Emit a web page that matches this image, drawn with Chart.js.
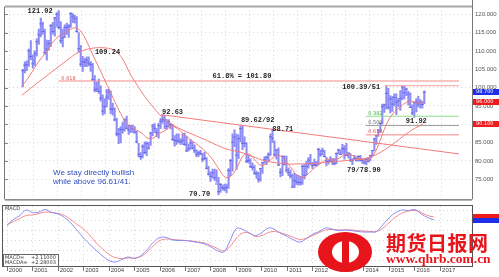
<!DOCTYPE html>
<html>
<head>
<meta charset="utf-8">
<script src="https://cdn.jsdelivr.net/npm/chart.js@4.4.0/dist/chart.umd.min.js"></script>
<style>
  html, body { margin: 0; padding: 0; background: #fff; }
  #wrap { position: relative; width: 499px; height: 277px; overflow: hidden; }
  #priceChart { position: absolute; left: 0; top: 0; }
  #macdChart { position: absolute; left: 0; top: 205px; }
  #logo { position: absolute; left: 318px; top: 232px; width: 54px; height: 40px; background: #e8141b; border-radius: 50%; }
  #logo .inner { position: absolute; left: 14px; top: 9px; width: 27px; height: 22px; background: #fff; border-radius: 50%; }
  #logo .bar { position: absolute; left: 24px; top: 3px; width: 7px; height: 34px; background: #e8141b; }
  #siteName { position: absolute; left: 386px; top: 228px; font: bold 20px "Noto Sans CJK SC"; color: #e8141b; letter-spacing: 0.5px; white-space: nowrap; }
  #siteUrl { position: absolute; left: 386px; top: 251px; font: bold 13.5px "Liberation Serif"; color: #e8141b; white-space: nowrap; }
</style>
</head>
<body>
<div id="wrap">
  <canvas id="priceChart" width="499" height="206"></canvas>
  <canvas id="macdChart" width="499" height="72"></canvas>
  <div id="logo"><div class="inner"></div><div class="bar"></div></div>
  <div id="siteName">期货日报网</div>
  <div id="siteUrl">www.qhrb.com.cn</div>
</div>
<script>
"use strict";

// Månadsstaplar jan 2000 - okt 2016 (high / low / close)
const highs = [
  105.0,107.0,107.3,110.5,112.8,108.9,110.0,113.3,116.0,119.0,117.9,116.0,
  113.0,112.9,117.2,117.8,119.2,120.5,121.0,118.0,116.0,117.1,117.6,117.2,
  120.5,120.2,119.8,119.4,115.0,111.5,108.5,108.0,108.4,108.4,107.1,106.6,
  103.3,101.6,102.3,100.5,98.0,97.0,99.5,99.6,99.1,95.8,94.5,91.6,
  88.9,89.4,90.6,91.5,92.2,89.7,89.6,89.8,89.4,88.1,84.8,82.3,
  84.4,85.2,85.2,85.1,87.8,90.0,90.2,88.8,90.3,91.6,92.6,92.4,
  91.3,91.3,90.3,90.0,86.9,87.4,87.4,86.1,87.5,87.6,86.8,84.6,
  85.8,85.2,84.4,83.0,82.7,82.9,82.1,82.4,80.9,78.5,77.0,77.8,
  77.8,77.6,75.5,73.8,73.4,73.7,73.7,77.9,80.4,87.4,88.5,87.3,
  87.1,89.5,89.6,86.6,85.0,81.6,80.6,79.4,78.8,77.2,76.9,78.0,
  79.6,81.1,81.3,82.2,87.4,88.7,85.5,83.1,83.6,77.9,81.4,81.4,
  81.3,78.1,77.5,76.4,76.6,76.3,76.1,75.8,78.9,79.0,79.9,80.9,
  81.8,79.6,80.5,79.9,83.5,83.0,83.5,82.9,81.0,80.3,81.2,80.7,
  80.7,82.2,83.2,83.0,84.5,84.2,84.8,82.3,82.0,80.6,81.5,81.1,
  81.4,81.5,80.6,80.4,80.7,80.9,81.5,82.8,86.2,86.9,88.4,90.3,
  95.5,95.5,100.4,99.8,97.8,97.6,98.3,98.3,97.1,99.2,100.2,100.5,
  99.9,99.0,98.6,95.3,96.0,97.0,97.6,96.7,96.3,99.1
];
const lows = [
  100.2,104.0,104.6,105.8,107.6,105.3,106.0,108.6,111.8,113.8,114.5,109.0,
  107.5,110.2,111.2,114.6,114.0,116.6,116.0,112.1,111.1,113.6,114.5,113.7,
  116.4,117.7,117.6,115.1,109.6,105.8,104.4,105.7,105.7,105.9,104.4,101.9,
  98.8,98.9,98.4,96.3,92.5,92.8,94.7,96.8,92.9,92.5,90.9,86.8,
  84.7,84.9,87.6,88.1,88.7,87.2,87.7,87.8,87.5,84.9,81.1,80.4,
  80.8,82.0,81.4,83.2,84.2,86.8,87.7,86.6,86.2,88.8,90.2,88.8,
  88.6,89.3,88.7,85.6,84.0,84.5,84.9,84.5,84.5,84.2,82.6,82.7,
  83.2,83.2,82.2,81.1,81.2,81.7,79.8,80.3,77.8,76.1,74.4,75.3,
  74.7,74.1,70.7,71.4,72.0,71.8,71.3,72.5,76.0,77.2,83.9,77.7,
  80.6,85.2,83.1,83.8,79.5,79.4,78.2,77.5,76.3,75.2,74.2,74.5,
  76.6,79.3,79.0,80.1,81.5,85.0,81.4,80.5,78.7,75.6,76.0,78.9,
  76.9,76.0,75.3,72.8,72.7,73.5,73.4,73.4,73.6,75.1,76.1,78.0,
  78.9,77.9,78.6,78.5,78.9,81.2,81.6,81.1,78.6,79.1,79.8,79.0,
  78.9,79.2,81.9,81.7,81.9,80.5,81.4,80.8,79.8,79.0,80.4,79.9,
  79.9,79.9,79.3,79.1,78.9,79.8,80.1,81.3,82.7,84.5,86.7,87.8,
  90.0,93.2,94.2,94.1,93.1,93.5,95.0,92.6,94.8,93.8,96.7,96.9,
  97.8,95.2,94.6,92.6,91.9,93.4,94.7,94.4,94.4,95.6
];
const closes = [
  104.6,106.1,106.3,110.0,108.5,106.5,109.2,112.5,114.4,117.4,115.3,109.6,
  110.5,112.0,116.9,115.3,119.0,120.0,116.4,112.8,113.6,116.4,116.4,116.8,
  120.2,119.5,118.9,115.3,110.6,106.4,107.1,106.9,107.5,106.7,106.3,102.2,
  99.4,99.6,99.0,97.1,93.6,94.8,97.4,98.8,94.2,94.1,91.2,87.4,
  87.3,88.6,88.5,91.2,88.9,88.4,89.6,88.8,87.9,85.2,81.8,81.2,
  83.9,82.3,84.7,83.5,87.6,89.5,88.9,87.7,89.6,90.8,91.2,91.2,
  89.4,90.7,89.9,85.9,85.6,85.5,85.4,85.2,85.6,84.5,82.7,83.3,
  84.9,83.5,82.8,81.7,82.2,81.9,80.5,80.7,78.0,76.4,75.8,76.7,
  75.4,73.7,71.6,73.6,72.7,72.4,72.8,77.4,80.1,85.1,86.5,81.6,
  86.1,88.8,84.8,84.8,79.9,80.1,78.4,78.2,76.7,76.5,75.0,77.9,
  79.5,80.3,81.0,81.8,86.6,86.2,81.7,83.0,78.9,76.9,81.2,79.0,
  77.5,76.8,75.9,72.9,74.7,74.3,74.1,74.1,78.5,76.1,78.5,80.2,
  79.3,78.7,79.0,78.8,83.1,81.8,82.7,81.2,79.9,79.8,80.2,79.8,
  79.3,82.0,83.0,81.8,83.4,83.2,81.5,82.1,80.2,80.2,80.7,80.2,
  81.2,80.2,80.1,79.5,80.4,79.8,81.5,82.8,86.0,86.9,88.4,90.3,
  94.8,95.3,98.4,94.6,96.9,95.5,97.3,96.0,96.4,97.1,100.2,98.6,
  99.6,98.2,94.6,93.1,95.9,96.1,95.5,96.0,95.4,98.7
];

// Glidande medelvärden, avlästa per kvartal (2000.0, 2000.25, ...)
const fastMA = [
  100.3,102.5,105.0,107.5, 109.5,112.0,113.8,114.8, 115.8,116.3,115.0,112.0,
  108.4,105.0,101.5,98.0, 94.5,91.5,89.5,88.5, 87.6,86.2,86.3,87.5,
  88.4,89.4,88.8,87.3, 86.0,84.8,83.5,82.0, 80.0,77.5,75.5,76.0,
  78.5,81.5,81.8,80.0, 78.8,79.5,81.0,81.5, 80.0,78.0,76.0,75.5,
  76.8,78.3,79.5,80.5, 80.2,80.8,81.8,81.6, 80.8,80.3,80.4,82.5,
  86.5,90.5,93.0,94.5, 95.8,96.3,95.8,96.0
];
const slowMA = [
  97.9,99.2,100.5,101.8, 103.0,104.3,105.5,106.8, 108.0,109.2,110.0,110.5,
  110.8,110.9,110.8,110.5, 109.5,107.3,104.0,101.3, 98.8,96.5,94.5,92.6,
  91.0,90.0,89.1,88.3, 87.6,86.9,86.2,85.5, 84.7,84.0,83.3,82.9,
  82.6,82.1,81.5,80.9, 80.3,79.9,79.6,79.4, 79.2,79.1,79.2,79.2,
  79.3,79.4,79.5,79.6, 79.8,79.9,80.1,80.2, 80.4,80.6,81.0,81.6,
  82.5,83.5,84.7,85.9, 87.2,88.3,89.3,90.1
];

// MACD och signallinje (MACDA), per kvartal
const macd = [
  1.1,2.2,3.0,4.1, 3.6,3.7,4.2,3.6, 3.3,2.6,1.5,0.0,
  -1.5,-2.8,-4.0,-5.1, -6.0,-6.3,-5.8,-5.3, -5.6,-5.0,-3.8,-2.3,
  -1.4,-1.4,-1.9,-2.0, -2.0,-2.2,-2.4,-2.7, -3.3,-4.0,-4.3,-2.0,
  0.4,0.2,-0.5,-1.0, -0.4,0.5,0.2,-0.6, -1.2,-1.9,-2.3,-1.6,
  -0.7,-0.2,0.5,0.3, 0.0,0.1,0.0,-0.2, -0.3,-0.3,-0.2,1.2,
  2.6,3.6,4.1,4.0, 4.2,3.3,2.6,2.1
];
const signal = [
  1.1,1.8,2.4,3.0, 3.1,3.4,3.7,3.6, 3.4,3.0,2.2,1.2,
  0.3,-1.0,-2.5,-3.7, -4.8,-5.4,-5.6,-5.5, -5.5,-5.2,-4.3,-3.0,
  -2.0,-1.7,-1.8,-1.9, -2.0,-2.1,-2.3,-2.5, -3.0,-3.6,-4.1,-3.2,
  -1.5,-0.5,-0.5,-1.2, -1.0,-0.4,-0.2,-0.5, -0.9,-1.4,-1.8,-1.5,
  -1.0,-0.4,0.1,0.2, 0.1,0.1,0.1,0.0, -0.1,-0.2,-0.2,0.5,
  1.6,2.7,3.5,3.9, 4.0,3.6,3.0,2.7
];

// Tekniska nivåer
const fib618Long = 101.80;              // 61.8% = 101.80
const resistance = 100.51;              // 100.39/51
const fibShort = [92.18, 89.65, 87.11]; // 38.2 / 50 / 61.8 av 78.90 -> 100.39
const trendLine = [[2005.8, 92.63], [2018.24, 81.9]];

// Axlar
const yearTicks = [2000,2001,2002,2003,2004,2005,2006,2007,2008,2009,2010,2011,2012,2013,2014,2015,2016,2017];
const priceTicks = [75, 80, 85, 90, 95, 100, 105, 110, 115, 120];

const xMin = 1999.84, xMax = 2018.24;

// x-position för varje månad och kvartal
const monthX = closes.map((c, i) => 2000 + (i + 0.5) / 12);
const quarterX = fastMA.map((v, i) => 2000 + i * 0.25);

// Textetiketter i diagrammet (år, värde)
const notes = [
  { text: "121.02", x: 2000.24, y: 120.8 },
  { text: "109.24", x: 2003.05, y: 109.7 },
  { text: "61.8% = 101.80", x: 2007.96, y: 103.0 },
  { text: "100.39/51", x: 2013.37, y: 100.0 },
  { text: "92.63", x: 2005.85, y: 93.4 },
  { text: "89.62/92", x: 2009.14, y: 91.1 },
  { text: "88.71", x: 2010.45, y: 88.7 },
  { text: "70.70", x: 2006.98, y: 71.0 },
  { text: "79/78.90", x: 2013.57, y: 77.4 },
  { text: "91.92", x: 2016.02, y: 90.8 }
];

function line2(x1, x2, y) {
  return [{ x: x1, y: y }, { x: x2, y: y }];
}

// Ram, texter och prisrutor för huvuddiagrammet
const pricePlugin = {
  id: "priceExtras",
  afterDraw(chart) {
    const ctx = chart.ctx;
    const a = chart.chartArea;
    const xs = chart.scales.x;
    const ys = chart.scales.y;
    ctx.save();

    // ram
    ctx.strokeStyle = "#a8a8a8";
    ctx.lineWidth = 2;
    ctx.beginPath(); ctx.moveTo(a.left, a.top); ctx.lineTo(a.right, a.top); ctx.stroke();
    ctx.lineWidth = 1;
    ctx.strokeStyle = "#777";
    ctx.beginPath();
    ctx.moveTo(a.left - 0.5, a.top); ctx.lineTo(a.left - 0.5, a.bottom);
    ctx.moveTo(a.right + 0.5, 0); ctx.lineTo(a.right + 0.5, a.bottom);
    ctx.stroke();
    ctx.strokeStyle = "#444";
    ctx.beginPath(); ctx.moveTo(a.left, a.bottom + 0.5); ctx.lineTo(a.right, a.bottom + 0.5); ctx.stroke();

    // små tick på vänster kant
    ctx.strokeStyle = "#888";
    priceTicks.forEach((v) => {
      const y = Math.round(ys.getPixelForValue(v)) + 0.5;
      ctx.beginPath(); ctx.moveTo(a.left, y); ctx.lineTo(a.left + 3, y); ctx.stroke();
    });

    // nivåetiketter
    ctx.font = "bold 7px 'Liberation Mono'";
    ctx.fillStyle = "#222";
    ctx.textBaseline = "middle";
    ctx.textAlign = "left";
    notes.forEach((n) => {
      ctx.fillText(n.text, xs.getPixelForValue(n.x), ys.getPixelForValue(n.y));
    });

    // små fib-etiketter
    ctx.font = "5px 'DejaVu Sans'";
    ctx.fillStyle = "#e05050";
    ctx.fillText("0.618", xs.getPixelForValue(2001.65), ys.getPixelForValue(fib618Long) - 2);
    ctx.fillStyle = "#40b040";
    ctx.fillText("0.382", xs.getPixelForValue(2014.45), ys.getPixelForValue(fibShort[0]) - 3);
    ctx.fillStyle = "#666";
    ctx.fillText("0.500", xs.getPixelForValue(2014.45), ys.getPixelForValue(fibShort[1]) - 3);
    ctx.fillStyle = "#e05050";
    ctx.fillText("0.618", xs.getPixelForValue(2014.45), ys.getPixelForValue(fibShort[2]) - 3);

    // kommentar
    ctx.font = "8px 'Liberation Sans'";
    ctx.fillStyle = "#2f4fc0";
    ctx.fillText("We stay directly bullish", xs.getPixelForValue(2001.3), ys.getPixelForValue(76.8));
    ctx.fillText("while above 96.61/41.", xs.getPixelForValue(2001.3), ys.getPixelForValue(74.4));

    // prisrutor på högeraxeln
    const boxes = [
      { v: closes[closes.length - 1], bg: "#1f2ee8" },
      { v: fastMA[fastMA.length - 1], bg: "#ee1c1c" },
      { v: slowMA[slowMA.length - 1], bg: "#ee1c1c" }
    ];
    ctx.font = "5px 'DejaVu Sans'";
    boxes.forEach((b) => {
      const y = Math.round(ys.getPixelForValue(b.v));
      ctx.fillStyle = b.bg;
      ctx.fillRect(a.right + 1, y - 3, 26, 6);
      ctx.fillStyle = "#fff";
      ctx.fillText(b.v.toFixed(3), a.right + 4, y);
    });
    ctx.restore();
  }
};

const priceConfig = {
  type: "bar",
  data: {
    datasets: [
      {
        label: "bars",
        data: monthX.map((x, i) => ({ x: x, y: [lows[i], highs[i]] })),
        backgroundColor: "#8c8cf3",
        barThickness: 1.4,
        order: 6
      },
      {
        type: "scatter",
        label: "close",
        data: monthX.map((x, i) => ({ x: x, y: closes[i] })),
        pointStyle: "line",
        radius: 1.5,
        borderWidth: 1,
        borderColor: "#6a6ae6",
        order: 5
      },
      {
        type: "line",
        label: "fast",
        data: quarterX.map((x, i) => ({ x: x, y: fastMA[i] })),
        borderColor: "#f27a7a",
        borderWidth: 1,
        pointRadius: 0,
        tension: 0.4,
        order: 2
      },
      {
        type: "line",
        label: "slow",
        data: quarterX.map((x, i) => ({ x: x, y: slowMA[i] })),
        borderColor: "#f27a7a",
        borderWidth: 1,
        pointRadius: 0,
        tension: 0.4,
        order: 2
      },
      {
        type: "line",
        label: "fib long",
        data: line2(2001.53, xMax, fib618Long),
        borderColor: "#f58a8a",
        borderWidth: 1,
        pointRadius: 0,
        order: 3
      },
      {
        type: "line",
        label: "resistance",
        data: line2(2015.14, xMax, resistance),
        borderColor: "#f5a0a0",
        borderWidth: 1,
        pointRadius: 0,
        order: 3
      },
      {
        type: "line",
        label: "fib 38",
        data: line2(2014.35, xMax, fibShort[0]),
        borderColor: "#8fdc8f",
        borderWidth: 1,
        pointRadius: 0,
        order: 3
      },
      {
        type: "line",
        label: "fib 50",
        data: line2(2014.35, xMax, fibShort[1]),
        borderColor: "#a0a0a0",
        borderWidth: 1,
        pointRadius: 0,
        order: 3
      },
      {
        type: "line",
        label: "fib 62",
        data: line2(2014.35, xMax, fibShort[2]),
        borderColor: "#f58a8a",
        borderWidth: 1,
        pointRadius: 0,
        order: 3
      },
      {
        type: "line",
        label: "trend",
        data: trendLine.map((p) => ({ x: p[0], y: p[1] })),
        borderColor: "#f27a7a",
        borderWidth: 1,
        pointRadius: 0,
        order: 3
      }
    ]
  },
  options: {
    responsive: false,
    animation: false,
    devicePixelRatio: 1,
    layout: { padding: { left: 3, top: 4, right: 0, bottom: 1 } },
    plugins: { legend: { display: false }, tooltip: { enabled: false } },
    scales: {
      x: {
        type: "linear",
        min: xMin,
        max: xMax,
        afterBuildTicks: (s) => { s.ticks = yearTicks.map((v) => ({ value: v })); },
        afterFit: (s) => { s.height = 0; },
        ticks: { display: false },
        grid: { color: "#d6d6d6", drawTicks: false },
        border: { display: false, dash: [1, 3] }
      },
      y: {
        position: "right",
        min: 69.5,
        max: 122.1,
        afterBuildTicks: (s) => { s.ticks = priceTicks.map((v) => ({ value: v })); },
        afterFit: (s) => { s.width = 27; },
        ticks: {
          callback: (v) => Number(v).toFixed(3),
          font: { family: "Liberation Sans", size: 6 },
          color: "#555",
          padding: 3
        },
        grid: { color: "#d6d6d6", drawTicks: false },
        border: { display: false, dash: [1, 3] }
      }
    }
  },
  plugins: [pricePlugin]
};

new Chart(document.getElementById("priceChart"), priceConfig);

// MACD-panelen
const macdPlugin = {
  id: "macdExtras",
  afterDraw(chart) {
    const ctx = chart.ctx;
    const a = chart.chartArea;
    const ys = chart.scales.y;
    ctx.save();
    ctx.strokeStyle = "#555";
    ctx.lineWidth = 1;
    ctx.strokeRect(a.left - 0.5, a.top - 0.5, a.right - a.left + 1, a.bottom - a.top + 1);

    ctx.font = "5px 'DejaVu Sans'";
    ctx.fillStyle = "#333";
    ctx.textBaseline = "middle";
    ctx.fillText("MACD", a.left + 2, a.top + 3);

    // värderuta nere till vänster
    ctx.fillStyle = "#fff";
    ctx.fillRect(a.left, a.bottom - 12, 56, 12);
    ctx.strokeStyle = "#666";
    ctx.strokeRect(a.left + 0.5, a.bottom - 11.5, 55, 12);
    ctx.fillStyle = "#333";
    ctx.fillText("MACD=", a.left + 2, a.bottom - 8.5);
    ctx.fillText("+2.11000", a.left + 28, a.bottom - 8.5);
    ctx.fillText("MACDA=", a.left + 2, a.bottom - 3);
    ctx.fillText("+2.28003", a.left + 28, a.bottom - 3);

    // rutor på högeraxeln
    const ySig = Math.round(ys.getPixelForValue(signal[signal.length - 1]));
    const yMac = Math.round(ys.getPixelForValue(macd[macd.length - 1]));
    ctx.fillStyle = "#ee1c1c";
    ctx.fillRect(a.right + 1, ySig - 3, 26, 6);
    ctx.fillStyle = "#1f2ee8";
    ctx.fillRect(a.right + 1, yMac - 2, 26, 5);
    ctx.restore();
  }
};

const macdConfig = {
  type: "line",
  data: {
    datasets: [
      {
        label: "MACD",
        data: quarterX.map((x, i) => ({ x: x, y: macd[i] })),
        borderColor: "#8a8af5",
        borderWidth: 1,
        pointRadius: 0,
        tension: 0.4
      },
      {
        label: "MACDA",
        data: quarterX.map((x, i) => ({ x: x, y: signal[i] })),
        borderColor: "#f58a8a",
        borderWidth: 1,
        pointRadius: 0,
        tension: 0.4
      }
    ]
  },
  options: {
    responsive: false,
    animation: false,
    devicePixelRatio: 1,
    layout: { padding: { left: 3, top: 1, right: 0, bottom: 0 } },
    plugins: { legend: { display: false }, tooltip: { enabled: false } },
    scales: {
      x: {
        type: "linear",
        min: xMin,
        max: xMax,
        afterBuildTicks: (s) => { s.ticks = yearTicks.map((v) => ({ value: v })); },
        afterFit: (s) => { s.height = 11; },
        ticks: {
          callback: (v) => " " + v,
          align: "start",
          maxRotation: 0,
          autoSkip: false,
          font: { family: "Liberation Sans", size: 6 },
          color: "#444",
          padding: -4
        },
        grid: { color: "#d6d6d6", drawTicks: true, tickLength: 5, tickColor: "#777" },
        border: { display: false, dash: [1, 3] }
      },
      y: {
        position: "right",
        min: -7.1,
        max: 4.9,
        afterBuildTicks: (s) => { s.ticks = [4, 2, 0, -2, -4, -6].map((v) => ({ value: v })); },
        afterFit: (s) => { s.width = 27; },
        ticks: { display: false },
        grid: { color: "#d6d6d6", drawTicks: false },
        border: { display: false, dash: [1, 3] }
      }
    }
  },
  plugins: [macdPlugin]
};

new Chart(document.getElementById("macdChart"), macdConfig);
</script>
</body>
</html>
